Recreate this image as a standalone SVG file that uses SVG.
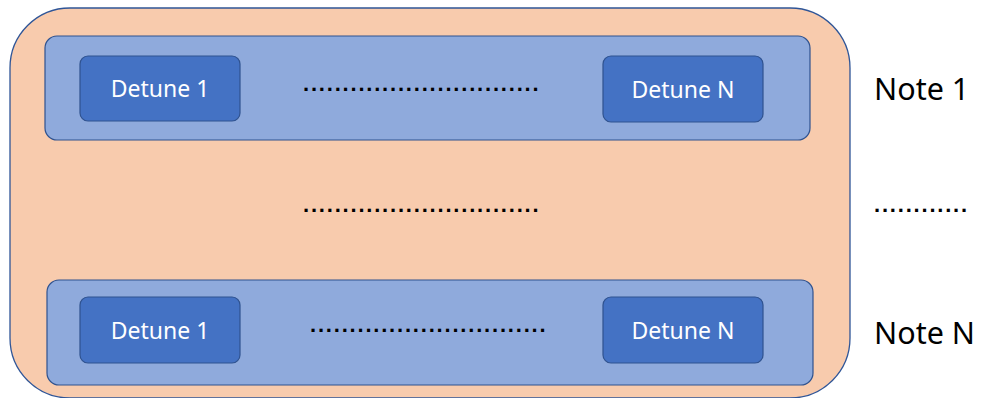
<svg xmlns="http://www.w3.org/2000/svg" width="982" height="398" viewBox="0 0 982 398">
<style>
.outer{fill:#F8CBAD;stroke:#2F5597;stroke-width:1.3}
.panel{fill:#8FAADC;stroke:#2F528F;stroke-width:1.2}
.box{fill:#4472C4;stroke:#2F528F;stroke-width:1.2}
.lbl{font-family:"Noto Sans","Open Sans",sans-serif;font-size:23px;fill:#FFFFFF;text-anchor:middle}
.note{font-family:"Noto Sans","Open Sans",sans-serif;font-size:30.5px;fill:#000000}
.dots{font-family:"Liberation Sans",sans-serif;font-size:22px;font-weight:bold;fill:#000000;letter-spacing:1.8px}
</style>
<rect width="982" height="398" fill="#FFFFFF"/>
<g id="container">
<rect class="outer" x="10" y="8" width="840" height="390" rx="60" ry="60"/>
</g>
<g id="note1-row">
<rect class="panel" x="45" y="36" width="765" height="104" rx="12" ry="12"/>
</g>
<g id="noteN-row">
<rect class="panel" x="47" y="280" width="766" height="105" rx="12" ry="12"/>
</g>
<g id="detune1-top">
<rect class="box" x="80" y="56" width="160" height="65" rx="8" ry="8"/>
<text class="lbl" x="160" y="97">Detune 1</text>
</g>
<g id="detuneN-top">
<rect class="box" x="603" y="56" width="160" height="66" rx="8" ry="8"/>
<text class="lbl" x="683" y="98">Detune N</text>
</g>
<g id="detune1-bottom">
<rect class="box" x="80" y="297" width="160" height="66" rx="8" ry="8"/>
<text class="lbl" x="160" y="339">Detune 1</text>
</g>
<g id="detuneN-bottom">
<rect class="box" x="603" y="297" width="160" height="66" rx="8" ry="8"/>
<text class="lbl" x="683" y="339">Detune N</text>
</g>
<g id="dots">
<text class="dots" x="303" y="91">..............................</text>
<text class="dots" x="303" y="212">..............................</text>
<text class="dots" x="310" y="332">..............................</text>
<text class="dots" x="874" y="212">............</text>
</g>
<g id="note-labels">
<text class="note" x="874" y="100">Note 1</text>
<text class="note" x="874" y="344">Note N</text>
</g>
<g id="connectors"></g>
</svg>
